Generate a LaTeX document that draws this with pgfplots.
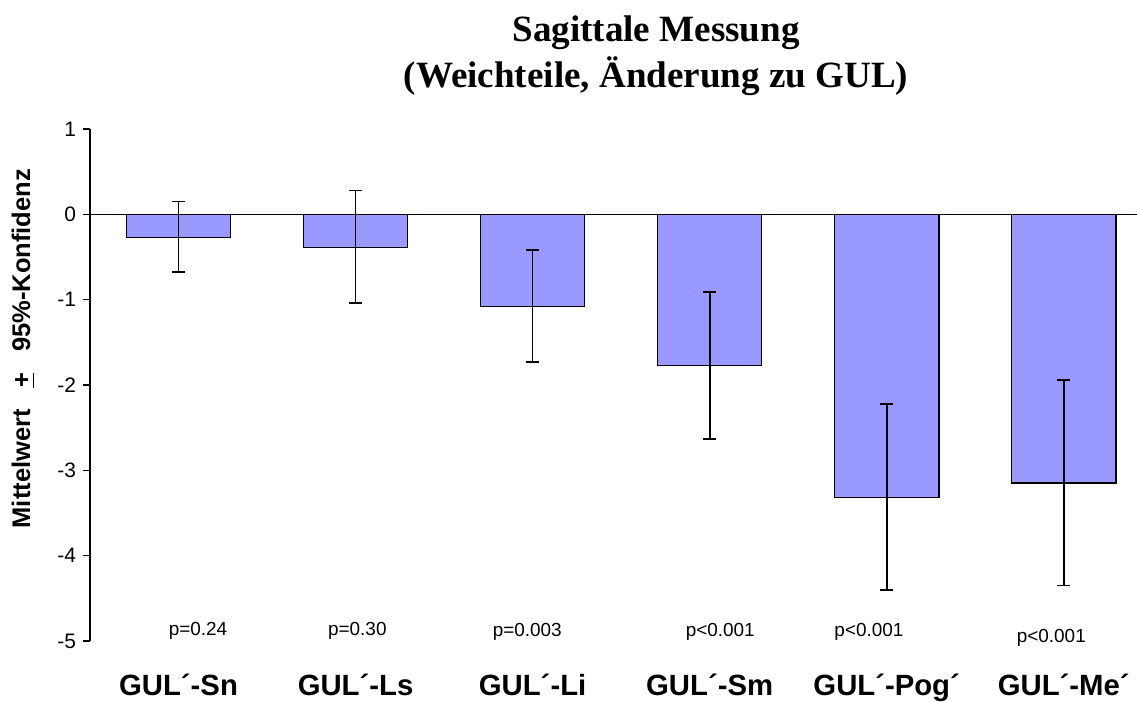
\documentclass[border=0pt]{standalone}
\usepackage{pgfplots}
\usepackage{pgfplotstable}
\pgfplotsset{compat=1.18}
\usepackage{fontspec}
\setmainfont{Liberation Sans}
\newfontfamily\titlefont{Liberation Serif}
\definecolor{barblue}{HTML}{9999FF}
\pgfplotstableread{
x y ep em
0 -0.27 0.42 0.41
1 -0.39 0.67 0.65
2 -1.08 0.66 0.65
3 -1.77 0.86 0.86
4 -3.32 1.10 1.08
5 -3.15 1.21 1.20
}\datatable
\begin{document}
\begin{tikzpicture}
\begin{axis}[
  scale only axis, width=523.5bp, height=256bp,
  xmin=-0.5, xmax=5.414, ymin=-5, ymax=1,
  axis x line=bottom, axis y line=left,
  x axis line style={draw=none},
  y axis line style={-, line width=0.8pt},
  ybar, bar width=0.588,
  xtick={0,...,5},
  xticklabels={GUL´-Sn, GUL´-Ls, GUL´-Li, GUL´-Sm, GUL´-Pog´, GUL´-Me´},
  x tick style={draw=none},
  xticklabel style={font=\fontsize{14.7}{18}\selectfont\bfseries, anchor=base, inner sep=0pt, yshift=-23.8bp},
  ytick={-5,-4,-3,-2,-1,0,1},
  yticklabels={-5,-4,-3,-2,-1,0,1},
  y tick style={line width=0.8pt, black},
  tick align=outside, major tick length=3.5bp,
  yticklabel style={font=\fontsize{10.5}{12}\selectfont},
  extra y ticks={0}, extra y tick labels={},
  extra y tick style={grid=major, major grid style={black, line width=0.6pt}},
  clip=false,
]
\addplot[fill=barblue, draw=black, line width=0.8pt,
  error bars/.cd, y dir=both, y explicit,
  error bar style={black, line width=0.9pt},
  error mark options={rotate=90, mark size=3.2bp, black, line width=0.9pt}]
  table[x=x, y=y, y error plus=ep, y error minus=em] {\datatable};
\node[anchor=base, font=\fontsize{9.5}{11}\selectfont] at (axis cs:0.11,-4.94) {p=0.24};
\node[anchor=base, font=\fontsize{9.5}{11}\selectfont] at (axis cs:1.01,-4.93) {p=0.30};
\node[anchor=base, font=\fontsize{9.5}{11}\selectfont] at (axis cs:1.97,-4.95) {p=0.003};
\node[anchor=base, font=\fontsize{9.5}{11}\selectfont] at (axis cs:3.06,-4.95) {p<0.001};
\node[anchor=base, font=\fontsize{9.5}{11}\selectfont] at (axis cs:3.90,-4.95) {p<0.001};
\node[anchor=base, font=\fontsize{9.5}{11}\selectfont] at (axis cs:4.93,-5.02) {p<0.001};
\node[rotate=90, font=\fontsize{12.8}{16}\selectfont\bfseries] at ([xshift=-33.5bp]rel axis cs:0,0.571) {Mittelwert\ \ \ \underline{+}\ \ \ 95\%-Konfidenz};
\node[anchor=base, font=\titlefont\fontsize{18.6}{23}\selectfont\bfseries] at ([yshift=43.5bp]rel axis cs:0.5406,1) {Sagittale Messung};
\node[anchor=base, font=\titlefont\fontsize{18.6}{23}\selectfont\bfseries] at ([yshift=20.5bp]rel axis cs:0.5406,1) {(Weichteile, Änderung zu GUL)};
\end{axis}
\pgfresetboundingbox
\path ([xshift=-45bp,yshift=-30.5bp]current axis.south west) rectangle ([yshift=64.5bp]current axis.north east);
\end{tikzpicture}
\end{document}
